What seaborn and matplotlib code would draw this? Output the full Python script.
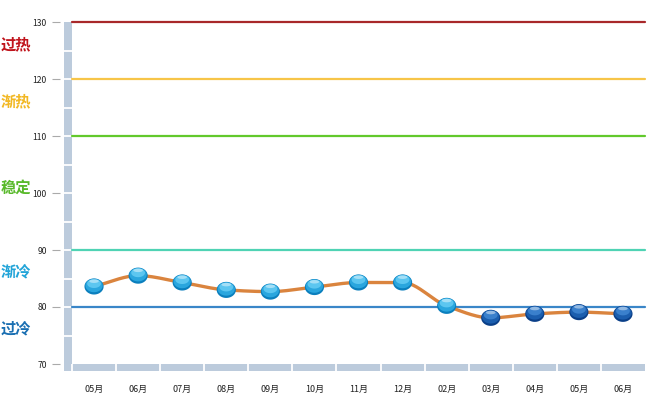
import numpy as np
import pandas as pd
import matplotlib
matplotlib.use("Agg")
import matplotlib.pyplot as plt
import matplotlib.transforms as mtransforms
from matplotlib.patches import Rectangle
from matplotlib.path import Path
import seaborn as sns

# ---------------- data ----------------
months = ["05月", "06月", "07月", "08月", "09月", "10月", "11月",
          "12月", "02月", "03月", "04月", "05月", "06月"]
values = [83.6, 85.5, 84.3, 83.0, 82.7, 83.5, 84.3, 84.3, 80.2, 78.1, 78.8, 79.1, 78.8]
period = ["prev"] * 9 + ["curr"] * 4

band_levels = [130, 120, 110, 90, 80]
band_colors = ["#a8282a", "#f7c548", "#62c92c", "#4fd3b4", "#3a86c8"]

zone_labels = ["过热", "渐热", "稳定", "渐冷", "过冷"]
zone_label_y = [126.1, 116.1, 100.9, 86.2, 76.3]
zone_colors = ["#c0141c", "#f2b824", "#58b92a", "#22a4d8", "#1a6fb2"]

yticks = [70, 80, 90, 100, 110, 120, 130]

# ---------------- style ----------------
sns.set_style("white")
plt.rcParams["font.family"] = ["Noto Sans CJK SC", "DejaVu Sans"]

W, H = 660, 399
fig = plt.figure(figsize=(W / 100, H / 100), dpi=100)
ax = fig.add_axes([72 / W, 35 / H, (645 - 72) / W, (364 - 22) / H])
ax.set_xlim(-0.5, len(months) - 0.5)
ax.set_ylim(70, 130)
for s in ax.spines.values():
    s.set_visible(False)

# 3D wall and floor
wall_w = 8 / 44.08
floor_h = 7 / 5.7
wall_col = "#bccbdc"
ax.add_patch(Rectangle((-0.5 - wall_w, 70 - floor_h), wall_w, 60 + floor_h,
                       facecolor=wall_col, edgecolor="none", clip_on=False, zorder=1))
ax.add_patch(Rectangle((-0.5 - wall_w, 70 - floor_h), len(months) + wall_w, floor_h,
                       facecolor=wall_col, edgecolor="none", clip_on=False, zorder=1))
for yv in range(75, 130, 5):
    ax.plot([-0.5 - wall_w, -0.5], [yv, yv], color="white", lw=1.3,
            clip_on=False, zorder=2, solid_capstyle="butt")
for k in range(len(months)):
    ax.plot([-0.5 + k, -0.5 + k], [70 - floor_h, 70], color="white", lw=1.3,
            clip_on=False, zorder=2, solid_capstyle="butt")

# reference band lines
for lvl, c in zip(band_levels, band_colors):
    ax.axhline(lvl, color=c, lw=1.6, zorder=3, clip_on=False)

# smooth line (monotone cubic through the points)
x = np.arange(len(values), dtype=float)
y = np.array(values, dtype=float)
d = np.diff(y)
m = np.zeros_like(y)
m[0], m[-1] = d[0], d[-1]
for i in range(1, len(y) - 1):
    if d[i - 1] * d[i] <= 0:
        m[i] = 0
    else:
        m[i] = 2 / (1 / d[i - 1] + 1 / d[i])
xs, ys = [], []
for i in range(len(y) - 1):
    t = np.linspace(0, 1, 25, endpoint=False)
    h00 = 2 * t**3 - 3 * t**2 + 1
    h10 = t**3 - 2 * t**2 + t
    h01 = -2 * t**3 + 3 * t**2
    h11 = t**3 - t**2
    xs.extend(x[i] + t)
    ys.extend(h00 * y[i] + h10 * m[i] + h01 * y[i + 1] + h11 * m[i + 1])
xs.append(x[-1]); ys.append(y[-1])
curve = pd.DataFrame({"x": xs, "y": ys})
sns.lineplot(data=curve, x="x", y="y", ax=ax, color="#da843e", lw=2.4,
             zorder=4, sort=False)

# glossy markers
def ellipse_path(cx, cy, rx, ry):
    th = np.linspace(0, 2 * np.pi, 60)
    v = np.column_stack([cx + rx * np.cos(th), cy + ry * np.sin(th)])
    return Path(v, closed=True), np.max(np.abs(v))

pts = pd.DataFrame({"x": x, "y": y, "period": period})
S = 13.8 ** 2
layers = [
    (ellipse_path(0, 0, 1.0, 0.84), {"prev": "#0b7fbd", "curr": "#0a3f88"}, 1.0),
    (ellipse_path(0, 0.10, 0.90, 0.70), {"prev": "#2aa6de", "curr": "#1b5eae"}, 1.0),
    (ellipse_path(0, 0.30, 0.72, 0.46), {"prev": "#5cc6f0", "curr": "#3a80cc"}, 1.0),
    (ellipse_path(0, 0.55, 0.50, 0.18), {"prev": "#ffffff", "curr": "#ffffff"}, 0.45),
]
for zi, ((path, rs), pal, alpha) in enumerate(layers):
    sns.scatterplot(data=pts, x="x", y="y", hue="period", palette=pal, ax=ax,
                    marker=path, s=S * rs ** 2, linewidth=0, alpha=alpha,
                    legend=False, zorder=5 + zi)

# axes ticks
ax.set_xticks(range(len(months)))
ax.set_xticklabels(months)
ax.set_yticks(yticks)
ax.set_yticklabels([str(v) for v in yticks])
ax.tick_params(axis="x", length=0, pad=15, labelsize=6.5, labelcolor="#222222")
ax.spines["left"].set_position(("outward", 9))
ax.tick_params(axis="y", left=True, length=6, width=0.8, color="#aaaaaa",
               pad=3, labelsize=6.2, labelcolor="#222222", direction="out")
ax.set_xlabel("")
ax.set_ylabel("")
ax.grid(False)

# zone labels on the left
trans = mtransforms.blended_transform_factory(fig.transFigure, ax.transData)
for lab, yy, c in zip(zone_labels, zone_label_y, zone_colors):
    fig.text(1 / W, yy, lab, transform=trans, color=c, fontsize=11,
             fontweight="bold", va="center", ha="left")

fig.savefig("out.png", dpi=100)
